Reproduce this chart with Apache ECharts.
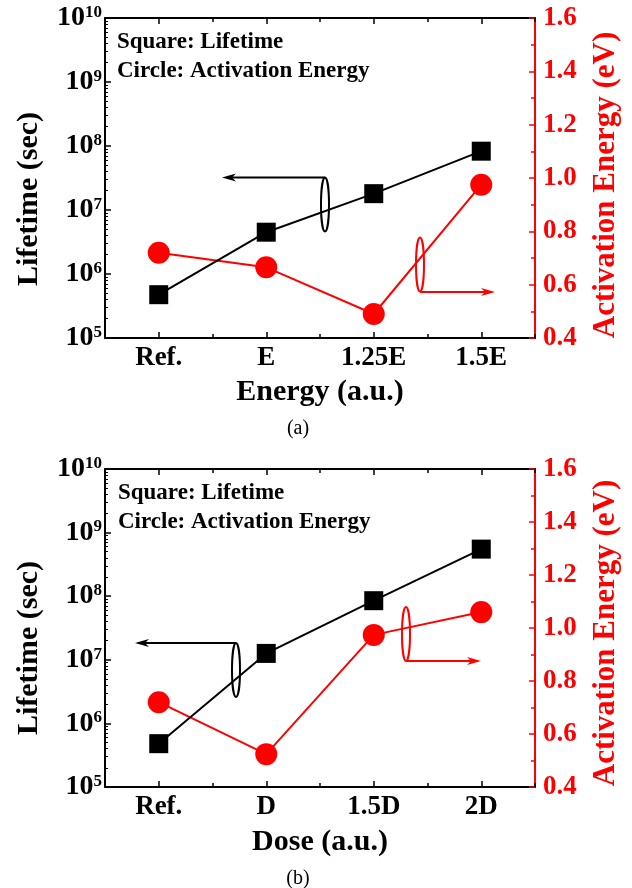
<!DOCTYPE html>
<html>
<head>
<meta charset="utf-8">
<script src="https://cdn.jsdelivr.net/npm/echarts@6/dist/echarts.min.js"></script>
<style>
  html, body { margin: 0; padding: 0; background: #fff; }
  #chart { width: 632px; height: 888px; }
</style>
</head>
<body>
<div id="chart"></div>
<script>
// panel (a): energy
var energyCats = ["Ref.", "E", "1.25E", "1.5E"];
var energyLifetime = [4.75e5, 4.5e6, 1.8e7, 8.3e7];
var energyEa = [0.72, 0.665, 0.49, 0.975];
// panel (b): dose
var doseCats = ["Ref.", "D", "1.5D", "2D"];
var doseLifetime = [4.8e5, 1.26e7, 8.5e7, 5.5e8];
var doseEa = [0.72, 0.524, 0.974, 1.06];
// minor ticks of the log axis (2..9 x 10^n)
var lifetimeMinor = [];
for (var p = 5; p < 10; p++) {
  for (var m = 2; m < 10; m++) lifetimeMinor.push(m * Math.pow(10, p));
}

var SERIF = '"Liberation Serif", "Times New Roman", serif';
var RED = "#ff0000";

var chart = echarts.init(document.getElementById("chart"));

var xAxes = [], yAxes = [], series = [], grids = [];

function addPanel(top, height, cats, life, ea) {
  var g = grids.length;
  grids.push({ left: 105, top: top, width: 430, height: height });
  var xi = xAxes.length, yi = yAxes.length;

  // bottom axis with labels, ticks at categories
  xAxes.push({
    type: "category", gridIndex: g, data: cats, position: "bottom",
    axisLine: { show: true, lineStyle: { color: "#000", width: 2 } },
    axisTick: { show: true, inside: true, alignWithLabel: true, length: 6, lineStyle: { color: "#000", width: 1.5 } },
    axisLabel: { color: "#000", fontFamily: SERIF, fontWeight: "bold", fontSize: 27, margin: 7 },
  });
  // bottom axis, ticks between categories
  xAxes.push({
    type: "category", gridIndex: g, data: cats, position: "bottom",
    axisLine: { show: false },
    axisTick: { show: true, inside: true, length: 4, lineStyle: { color: "#000", width: 1.5 } },
    axisLabel: { show: false },
  });
  // top frame
  xAxes.push({
    type: "category", gridIndex: g, data: cats, position: "top",
    axisLine: { show: true, lineStyle: { color: "#000", width: 2 } },
    axisTick: { show: true, inside: true, alignWithLabel: true, length: 6, lineStyle: { color: "#000", width: 1.5 } },
    axisLabel: { show: false },
  });
  xAxes.push({
    type: "category", gridIndex: g, data: cats, position: "top",
    axisLine: { show: false },
    axisTick: { show: true, inside: true, length: 4, lineStyle: { color: "#000", width: 1.5 } },
    axisLabel: { show: false },
  });

  // left log axis
  yAxes.push({
    type: "log", logBase: 10, gridIndex: g, min: 1e5, max: 1e10, position: "left",
    axisLine: { show: true, lineStyle: { color: "#000", width: 2 } },
    axisTick: { show: true, inside: true, length: 6, lineStyle: { color: "#000", width: 1.5 } },
    splitLine: { show: false },
    axisLabel: {
      margin: 3,
      formatter: function (v) {
        return "{b|10}{s|" + Math.round(Math.log10(v)) + "}";
      },
      rich: {
        b: { color: "#000", fontFamily: SERIF, fontWeight: "bold", fontSize: 28 },
        s: { color: "#000", fontFamily: SERIF, fontWeight: "bold", fontSize: 17, verticalAlign: "top" },
      },
    },
  });
  // left minor ticks
  yAxes.push({
    type: "log", logBase: 10, gridIndex: g, min: 1e5, max: 1e10, position: "left",
    axisLine: { show: false },
    axisTick: { show: true, inside: true, length: 3, customValues: lifetimeMinor, lineStyle: { color: "#000", width: 1 } },
    axisLabel: { show: false },
    splitLine: { show: false },
  });
  // right activation energy axis
  yAxes.push({
    type: "value", gridIndex: g, min: 0.4, max: 1.6, interval: 0.2, position: "right",
    axisLine: { show: true, lineStyle: { color: RED, width: 2 } },
    axisTick: { show: true, inside: true, length: 6, lineStyle: { color: RED, width: 1.5 } },
    minorTick: { show: true, splitNumber: 2, length: 4, lineStyle: { color: RED, width: 1.5 } },
    splitLine: { show: false },
    axisLabel: {
      color: RED, fontFamily: SERIF, fontWeight: "bold", fontSize: 27, margin: 8,
      formatter: function (v) { return v.toFixed(1); },
    },
  });

  series.push({
    name: "Lifetime", type: "line", xAxisIndex: xi, yAxisIndex: yi, data: life,
    symbol: "rect", symbolSize: 19,
    lineStyle: { color: "#000", width: 2 }, itemStyle: { color: "#000" },
    z: 3,
  });
  series.push({
    name: "Activation Energy", type: "line", xAxisIndex: xi, yAxisIndex: yi + 2, data: ea,
    symbol: "circle", symbolSize: 22,
    lineStyle: { color: RED, width: 2 }, itemStyle: { color: RED },
    z: 2,
  });
}

addPanel(18, 320, energyCats, energyLifetime, energyEa);
addPanel(469, 318, doseCats, doseLifetime, doseEa);

// annotation helpers
function label(text, x, y) {
  return {
    type: "text", x: x, y: y, z: 10,
    style: { text: text, fill: "#000", font: "bold 23px " + SERIF, verticalAlign: "middle" },
  };
}
function axisTitle(text, x, y, color, size, vertical) {
  return {
    type: "text", x: x, y: y, z: 10, rotation: vertical ? Math.PI / 2 : 0,
    style: {
      text: text, fill: color, font: "bold " + size + "px " + SERIF,
      align: "center", verticalAlign: "middle",
    },
  };
}
function arrow(x1, x2, y, color) {
  var dir = x2 > x1 ? 1 : -1;
  return {
    type: "group", z: 10,
    children: [
      { type: "line", shape: { x1: x1, y1: y, x2: x2 - dir * 8, y2: y }, style: { stroke: color, lineWidth: 2 } },
      {
        type: "polygon",
        shape: { points: [[x2, y], [x2 - dir * 14, y - 4], [x2 - dir * 10, y], [x2 - dir * 14, y + 4]] },
        style: { fill: color },
      },
    ],
  };
}
function ring(cx, cy, ry, color) {
  return {
    type: "ellipse", z: 10,
    shape: { cx: cx, cy: cy, rx: 4, ry: ry },
    style: { fill: null, stroke: color, lineWidth: 2 },
  };
}
function caption(text, x, y) {
  return {
    type: "text", x: x, y: y, z: 10,
    style: { text: text, fill: "#000", font: "20px " + SERIF, align: "center", verticalAlign: "middle" },
  };
}

var graphics = [
  label("Square: Lifetime", 117, 42),
  label("Circle: Activation Energy", 117, 71),
  axisTitle("Lifetime (sec)", 29, 199, "#000", 30, true),
  axisTitle("Activation Energy (eV)", 606, 185, RED, 31, true),
  axisTitle("Energy (a.u.)", 320, 392, "#000", 30, false),
  ring(325, 204.5, 27, "#000"),
  arrow(325, 222, 177.5, "#000"),
  ring(420, 264.5, 27, RED),
  arrow(420, 495, 292, RED),
  caption("(a)", 298, 429),

  label("Square: Lifetime", 118, 493),
  label("Circle: Activation Energy", 118, 522),
  axisTitle("Lifetime (sec)", 29, 648, "#000", 30, true),
  axisTitle("Activation Energy (eV)", 606, 633, RED, 31, true),
  axisTitle("Dose (a.u.)", 320, 842, "#000", 30, false),
  ring(236, 670, 27, "#000"),
  arrow(236, 135, 643, "#000"),
  ring(406, 634, 27, RED),
  arrow(406, 481, 661, RED),
  caption("(b)", 298, 879),
];

var option = {
  backgroundColor: "#fff",
  animation: false,
  grid: grids,
  xAxis: xAxes,
  yAxis: yAxes,
  series: series,
  graphic: graphics,
};

chart.setOption(option);
</script>
</body>
</html>
